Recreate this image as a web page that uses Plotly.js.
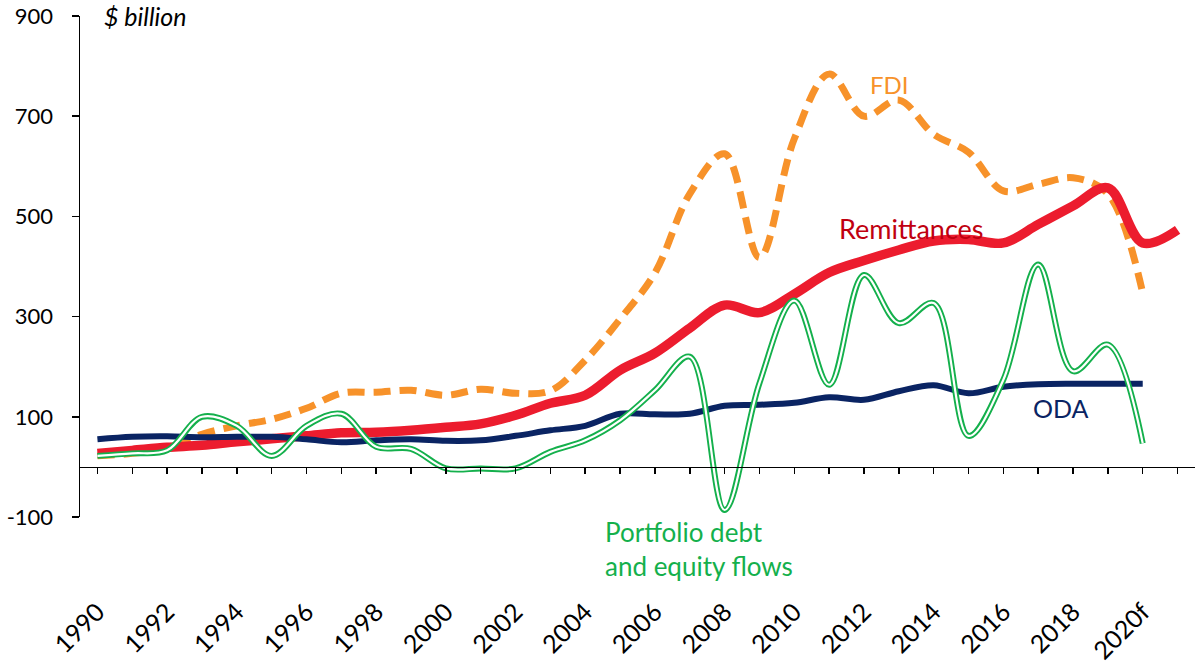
<!DOCTYPE html>
<html><head><meta charset="utf-8">
<script src="https://cdn.plot.ly/plotly-3.0.1.min.js"></script>
<style>html,body{margin:0;padding:0;background:#fff}#chart{width:1197px;height:671px}</style>
</head><body><div id="chart"></div>
<script>
const years = [1990,1991,1992,1993,1994,1995,1996,1997,1998,1999,2000,2001,2002,2003,2004,2005,2006,2007,2008,2009,2010,2011,2012,2013,2014,2015,2016,2017,2018,2019,2020,2021];
const remittances = [27,33,39,43,50,56,62,68,69,73,79,86,103,127,143,193,227,277,323,308,345,388,412,433,451,454,447,484,521,557,447,473];
const fdi = [22,27,37,65,82,95,117,147,149,153,143,155,147,152,213,295,387,545,625,418,655,784,700,732,664,628,551,564,577,545,347];
const portfolio = [22,27,33,100,82,22,82,106,40,36,-3,-3,-3,30,53,93,153,220,-86,167,332,164,383,287,327,62,174,404,191,244,47];
const oda = [55,60,61,59,60,60,55,49,53,55,52,53,62,73,82,106,105,106,122,124,128,139,134,151,163,147,160,165,166,166,166];
const tickYears = [1990,1992,1994,1996,1998,2000,2002,2004,2006,2008,2010,2012,2014,2016,2018,2020];
const tickLabels = ['1990','1992','1994','1996','1998','2000','2002','2004','2006','2008','2010','2012','2014','2016','2018','2020f'];
const yTicks = [-100,100,300,500,700,900];

const yrs = n => years.slice(0, n);
const traces = [
  {x: yrs(fdi.length), y: fdi, mode:'lines', line:{color:'#F7922A', width:7, dash:'17px,9px', shape:'spline', smoothing:1}, hoverinfo:'skip'},
  {x: yrs(remittances.length), y: remittances, mode:'lines', line:{color:'#EC1C2E', width:9.5, shape:'spline', smoothing:1}, hoverinfo:'skip'},
  {x: yrs(oda.length), y: oda, mode:'lines', line:{color:'#0A2463', width:6, shape:'spline', smoothing:1}, hoverinfo:'skip'},
  {x: yrs(portfolio.length), y: portfolio, mode:'lines', line:{color:'#14B04C', width:6, shape:'spline', smoothing:1}, hoverinfo:'skip'},
  {x: yrs(portfolio.length), y: portfolio, mode:'lines', line:{color:'#FFFFFF', width:2.2, shape:'spline', smoothing:1}, hoverinfo:'skip'}
];

const layout = {
  width:1197, height:671,
  margin:{l:80, r:2, t:16, b:154},
  paper_bgcolor:'#fff', plot_bgcolor:'#fff',
  showlegend:false,
  font:{family:'Lato, "Open Sans", sans-serif', size:22, color:'#000'},
  xaxis:{
    range:[1989.5, 2021.5], anchor:'free', position:0.1,
    showline:true, linecolor:'#000', linewidth:1.5,
    showgrid:false, zeroline:false,
    tickmode:'array', tickvals:tickYears, ticktext:tickLabels,
    ticks:'outside', ticklen:6, tickwidth:1.5, tickcolor:'#000',
    minor:{tick0:1990, dtick:1, ticks:'outside', ticklen:6, tickwidth:1.5, tickcolor:'#000', showgrid:false},
    tickangle:-45, ticklabelstandoff:113,
    tickfont:{size:25}
  },
  yaxis:{
    range:[-100, 900], showline:true, linecolor:'#000', linewidth:1.5,
    showgrid:false, zeroline:false,
    tickmode:'array', tickvals:yTicks, ticktext:yTicks.map(String),
    ticks:'outside', ticklen:7, tickwidth:1.5, tickcolor:'#000',
    ticklabelstandoff:14, tickfont:{size:22}
  },
  annotations:[
    {text:'<i>$ billion</i>', xref:'paper', yref:'paper', x:0.0195, y:1.0, xanchor:'left', yanchor:'middle', showarrow:false, font:{size:25, color:'#000'}},
    {text:'FDI', xref:'paper', yref:'paper', x:0.7264, y:0.8623, xanchor:'center', yanchor:'middle', showarrow:false, font:{size:24, color:'#F7922A'}},
    {text:'Remittances', xref:'paper', yref:'paper', x:0.7457, y:0.5768, xanchor:'center', yanchor:'middle', showarrow:false, font:{size:27, color:'#C00010'}},
    {text:'ODA', xref:'paper', yref:'paper', x:0.8798, y:0.2176, xanchor:'center', yanchor:'middle', showarrow:false, font:{size:25, color:'#0A2463'}},
    {text:'Portfolio debt<br>and equity flows', xref:'paper', yref:'paper', x:0.4688, y:-0.064, xanchor:'left', yanchor:'middle', align:'left', showarrow:false, font:{size:26, color:'#14B04C'}}
  ]
};
Plotly.newPlot('chart', traces, layout, {displayModeBar:false, staticPlot:true});
</script></body></html>
